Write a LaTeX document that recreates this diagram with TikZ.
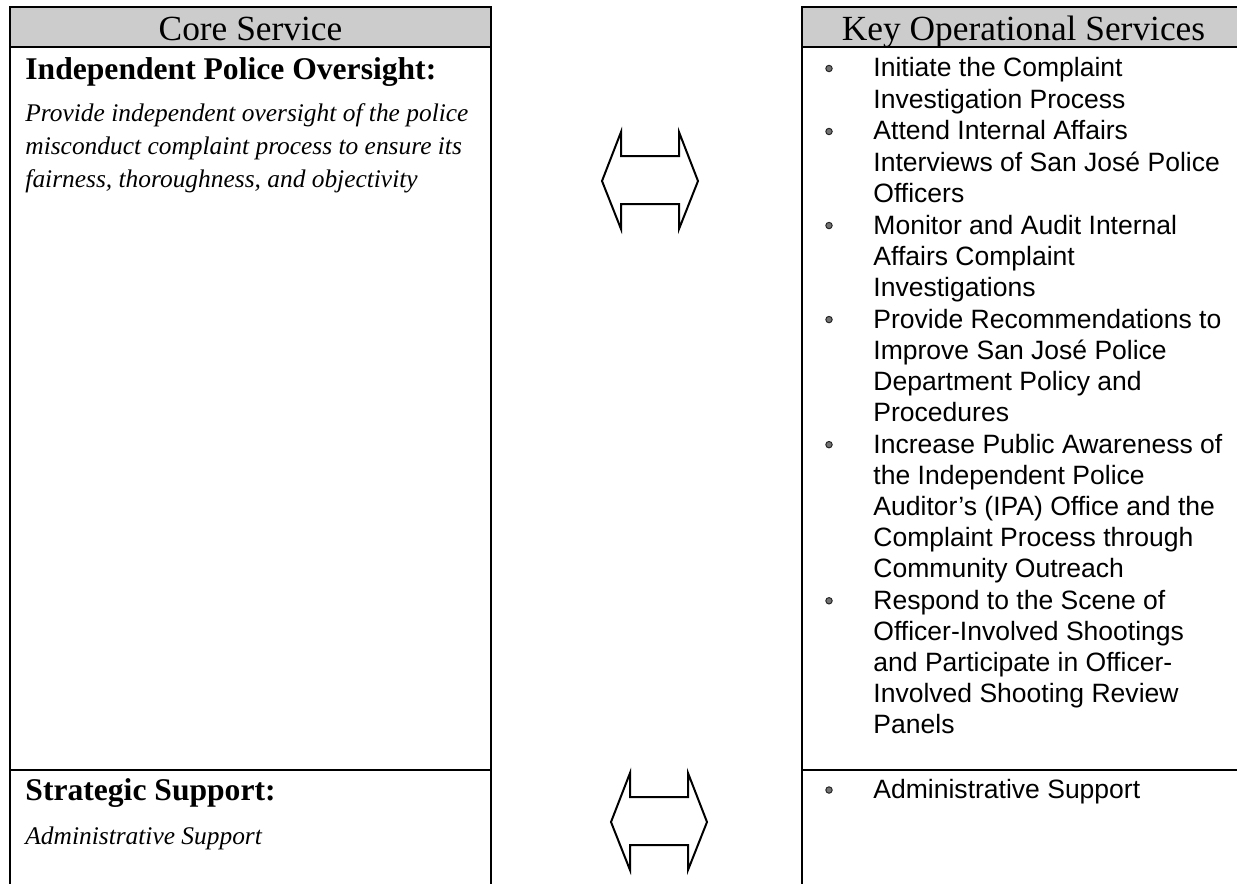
\documentclass[tikz,border=0pt]{standalone}
\usepackage{fontspec}
\setmainfont{Liberation Serif}
\newfontfamily\opsfont{Liberation Sans}
\usetikzlibrary{positioning}

\begin{document}
\begin{tikzpicture}[x=0.4525pt,y=-0.4525pt,
	box/.style={line width=0.8pt},
	band/.style={draw,line width=0.8pt,fill=black!20},
	headtxt/.style={anchor=base,inner sep=0pt,font=\fontsize{16pt}{19pt}\selectfont},
	title/.style={anchor=base west,inner sep=0pt,font=\fontsize{14.3pt}{17pt}\selectfont\bfseries},
	desc/.style={anchor=north west,inner sep=0pt,align=left,font=\fontsize{11.5pt}{14.93pt}\selectfont\itshape},
	ops/.style={anchor=north west,inner sep=0pt,align=left,font=\opsfont\fontsize{12pt}{14.05pt}\selectfont},
	dot/.style={circle,draw=black!85,fill=black!55,line width=0.45pt,inner sep=0pt,minimum size=2.9pt},
	dblarrow/.style={draw,line width=0.9pt,line join=miter}]
\useasboundingbox (0,0) rectangle (1237,884);

% core service column
\draw[band] (10,7) rectangle (491,47);
\draw[box] (10,47) -- (10,884) (491,47) -- (491,884) (10,770) -- (491,770);
\node[headtxt] (corehead) at (250.5,40) {Core Service};
\node[title] (ovtitle) at (25,79) {Independent Police Oversight:};
\node[desc] (ovtext) at (25,98) {\strut Provide independent oversight of the police\\misconduct complaint process to ensure its\\fairness, thoroughness, and objectivity\strut};
\node[title] (sstitle) at (25,800) {Strategic Support:};
\node[desc,anchor=base west] (sstext) at (25,844) {Administrative Support};

% operational services column
\draw[band] (802,7) rectangle (1244,47);
\draw[box] (802,47) -- (802,884) (802,770) -- (1244,770);
\node[headtxt] (opshead) at (1023.5,40) {Key Operational Services};
\node[ops] (ops1) at (873,54.8) {\strut Initiate the Complaint\\Investigation Process\strut};
\node[ops,below=0pt of ops1.south west,anchor=north west] (ops2) {\strut Attend Internal Affairs\\Interviews of San José Police\\Officers\strut};
\node[ops,below=0pt of ops2.south west,anchor=north west] (ops3) {\strut Monitor and Audit Internal\\Affairs Complaint\\Investigations\strut};
\node[ops,below=0pt of ops3.south west,anchor=north west] (ops4) {\strut Provide Recommendations to\\Improve San José Police\\Department Policy and\\Procedures\strut};
\node[ops,below=0pt of ops4.south west,anchor=north west] (ops5) {\strut Increase Public Awareness of\\the Independent Police\\Auditor’s (IPA) Office and the\\Complaint Process through\\Community Outreach\strut};
\node[ops,below=0pt of ops5.south west,anchor=north west] (ops6) {\strut Respond to the Scene of\\Officer-Involved Shootings\\and Participate in Officer-\\Involved Shooting Review\\Panels\strut};
\node[ops] (ops7) at (873,776.3) {\strut Administrative Support\strut};
\foreach \n in {ops1,ops2,ops3,ops4,ops5,ops6,ops7}
	\node[dot] (dot-\n) at ([shift={(-44,13.7)}]\n.north west) {};

% double arrows between the columns
\foreach \ax/\ay in {602/181,611/822}
	\draw[dblarrow,shift={(\ax,\ay)}] (0,0) -- (19,-49) -- (19,-25) -- (77,-25) -- (77,-49) -- (96,0)
		-- (77,48) -- (77,23) -- (19,23) -- (19,48) -- cycle;
\end{tikzpicture}
\end{document}
